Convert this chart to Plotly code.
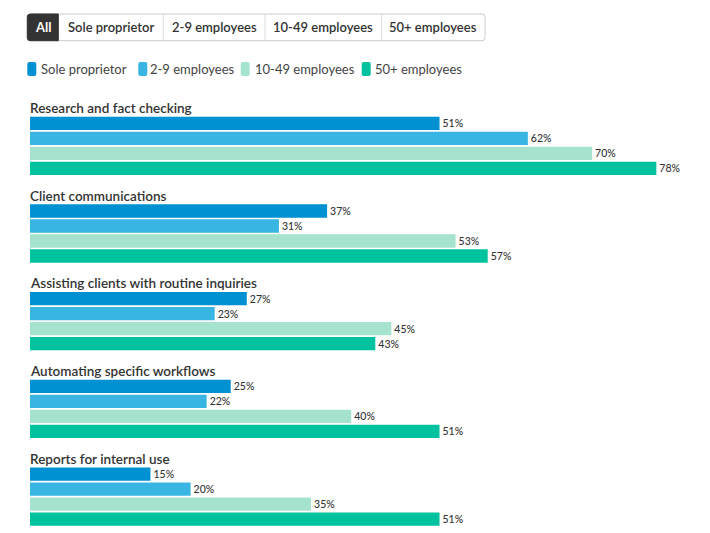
import plotly.graph_objects as go

categories = [
    "Research and fact checking",
    "Client communications",
    "Assisting clients with routine inquiries",
    "Automating specific workflows",
    "Reports for internal use",
]
series_names = ["Sole proprietor", "2-9 employees", "10-49 employees", "50+ employees"]
sole_proprietor = [51, 37, 27, 25, 15]
employees_2_9 = [62, 31, 23, 22, 20]
employees_10_49 = [70, 53, 45, 40, 35]
employees_50_plus = [78, 57, 43, 51, 51]
button_labels = ["All", "Sole proprietor", "2-9 employees", "10-49 employees", "50+ employees"]

series_values = [sole_proprietor, employees_2_9, employees_10_49, employees_50_plus]
colors = ["#0091D2", "#38B5E3", "#A5E3CF", "#00C29E"]

OFF = 8  # page body margin offset
W, H = 710, 533
ML, MR, MT, MB = 30 - OFF, 28, 95 - OFF, 3
PW, PH = W - ML - MR, H - MT - MB
PX_PER_PCT = 8.03
SLOT_PX = 15.0
GROUP_PX = 87.7
FIRST_CENTER = 123.3 - OFF
group_stride = GROUP_PX / SLOT_PX

FONT = "Lato, 'Open Sans', sans-serif"


def px_x(px):
    return (px - OFF - ML) / PW


def px_y(py):
    return 1 - (py - OFF - MT) / PH


fig = go.Figure()
for si, (name, vals, col) in enumerate(zip(series_names, series_values, colors)):
    ys = [gi * group_stride + si for gi in range(len(categories))]
    fig.add_trace(go.Bar(
        x=vals, y=ys, orientation="h", name=name,
        marker=dict(color=col, line=dict(width=0)),
        width=13.3 / SLOT_PX,
        text=[f"{v}%" for v in vals], textposition="outside",
        textfont=dict(family=FONT, size=10.5, color="#333333", weight=500),
        cliponaxis=False, showlegend=False,
        hovertemplate=name + ": %{x}%<extra></extra>",
    ))

annotations = []
for gi, cat in enumerate(categories):
    annotations.append(dict(
        text=cat, xref="paper", yref="y", x=px_x(28.0), y=gi * group_stride - 15.5 / SLOT_PX,
        xanchor="left", yanchor="middle", showarrow=False,
        font=dict(family=FONT, size=13.5, color="#333333", weight=600),
    ))

shapes = []
# Buttons
btn_edges = [27.3, 58.3, 163.3, 265.0, 381.7, 485.0]
by0, by1 = 14.0, 40.7
r = 3
x0, x1 = btn_edges[0], btn_edges[-1]


def P(x, y):
    return f"{px_x(x)},{px_y(y)}"


outer = (f"M{P(x0 + r, by0)} L{P(x1 - r, by0)} Q{P(x1, by0)} {P(x1, by0 + r)} "
         f"L{P(x1, by1 - r)} Q{P(x1, by1)} {P(x1 - r, by1)} L{P(x0 + r, by1)} "
         f"Q{P(x0, by1)} {P(x0, by1 - r)} L{P(x0, by0 + r)} Q{P(x0, by0)} {P(x0 + r, by0)} Z")
shapes.append(dict(type="path", path=outer, xref="paper", yref="paper",
                   fillcolor="white", line=dict(color="#CCCCCC", width=1), layer="above"))
ax1 = btn_edges[1]
active = (f"M{P(x0 + r, by0)} L{P(ax1, by0)} L{P(ax1, by1)} L{P(x0 + r, by1)} "
          f"Q{P(x0, by1)} {P(x0, by1 - r)} L{P(x0, by0 + r)} Q{P(x0, by0)} {P(x0 + r, by0)} Z")
shapes.append(dict(type="path", path=active, xref="paper", yref="paper",
                   fillcolor="#333333", line=dict(color="#333333", width=1), layer="above"))
for e in btn_edges[2:-1]:
    shapes.append(dict(type="line", xref="paper", yref="paper",
                       x0=px_x(e), x1=px_x(e), y0=px_y(by0), y1=px_y(by1),
                       line=dict(color="#DDDDDD", width=1), layer="above"))
for i, lab in enumerate(button_labels):
    cx = (btn_edges[i] + btn_edges[i + 1]) / 2
    annotations.append(dict(
        text=lab, xref="paper", yref="paper", x=px_x(cx), y=px_y((by0 + by1) / 2),
        xanchor="center", yanchor="middle", showarrow=False,
        font=dict(family=FONT, size=13, color="white" if i == 0 else "#333333",
                  weight="bold" if i == 0 else 600),
    ))

# Legend
leg_marker_x = [27.3, 138.3, 240.7, 361.7]
leg_text_x = [39.3, 148.0, 253.0, 373.0]
ly0, ly1 = 62.0, 76.0
rr = 2
for mx, tx, name, col in zip(leg_marker_x, leg_text_x, series_names, colors):
    a, b = mx, mx + 9
    path = (f"M{P(a + rr, ly0)} L{P(b - rr, ly0)} Q{P(b, ly0)} {P(b, ly0 + rr)} "
            f"L{P(b, ly1 - rr)} Q{P(b, ly1)} {P(b - rr, ly1)} L{P(a + rr, ly1)} "
            f"Q{P(a, ly1)} {P(a, ly1 - rr)} L{P(a, ly0 + rr)} Q{P(a, ly0)} {P(a + rr, ly0)} Z")
    shapes.append(dict(type="path", path=path, xref="paper", yref="paper",
                       fillcolor=col, line=dict(width=0), layer="above"))
    annotations.append(dict(
        text=name, xref="paper", yref="paper", x=px_x(tx), y=px_y((ly0 + ly1) / 2),
        xanchor="left", yanchor="middle", showarrow=False,
        font=dict(family=FONT, size=13, color="#444444"),
    ))

fig.update_layout(
    width=W, height=H,
    margin=dict(l=ML, r=MR, t=MT, b=MB, pad=0),
    paper_bgcolor="white", plot_bgcolor="white",
    barmode="overlay",
    xaxis=dict(range=[0, PW / PX_PER_PCT], visible=False, fixedrange=True),
    yaxis=dict(range=[(MT + PH - FIRST_CENTER) / SLOT_PX, (MT - FIRST_CENTER) / SLOT_PX],
               visible=False, fixedrange=True),
    annotations=annotations, shapes=shapes,
    showlegend=False,
    font=dict(family=FONT),
)

fig.write_html("out.html")
